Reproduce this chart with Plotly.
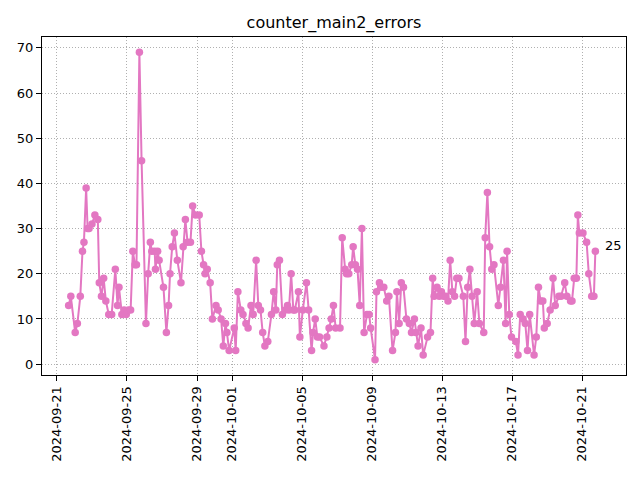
import pandas as pd
import plotly.graph_objects as go

# hours since 2024-09-21 00:00
hours = [16, 19, 25, 28, 32, 35, 37, 40, 42, 44, 48, 52, 56, 58, 61, 64, 67, 71, 75, 80,
         83, 85, 89, 92, 95, 98, 101, 104, 107, 109, 113, 116, 122, 125, 128, 130, 134, 135, 138, 140,
         146, 150, 153, 155, 158, 161, 165, 170, 173, 176, 179, 183, 186, 190, 195, 198, 201, 203, 206, 210,
         213, 218, 221, 225, 228, 231, 233, 236, 243, 245, 248, 252, 255, 259, 262, 266, 269, 273, 276, 279,
         282, 285, 289, 294, 297, 300, 302, 305, 309, 313, 316, 318, 321, 324, 326, 331, 333, 337, 342, 345,
         349, 351, 354, 357, 360, 366, 370, 373, 376, 379, 382, 388, 391, 395, 397, 400, 404, 406, 409, 412,
         415, 418, 421, 425, 428, 430, 436, 438, 442, 444, 448, 452, 455, 460, 464, 466, 469, 472, 475, 479,
         483, 486, 490, 492, 495, 499, 502, 508, 512, 515, 517, 521, 524, 527, 530, 533, 536, 539, 542, 545,
         548, 551, 557, 560, 563, 566, 569, 572, 576, 579, 585, 587, 590, 593, 596, 599, 605, 608, 612, 615,
         617, 620, 623, 629, 632, 635, 639, 642, 645, 648, 654, 657, 660, 663, 666, 668, 672, 676, 680, 683,
         688, 691, 696, 699, 704, 706, 709, 712, 714, 716, 721, 726, 729, 733, 736, 738]

values = [13, 15, 7, 9, 15, 25, 27, 39, 30, 30, 31, 33, 32, 18, 15, 19, 14, 11, 11, 21,
          13, 17, 11, 12, 11, 12, 12, 25, 22, 22, 69, 45, 9, 20, 27, 25, 25, 21, 25, 23,
          17, 7, 13, 20, 26, 29, 23, 18, 26, 32, 27, 27, 35, 33, 33, 25, 22, 20, 21, 18,
          10, 13, 12, 10, 4, 9, 7, 3, 8, 3, 16, 12, 11, 9, 8, 13, 11, 23, 13, 12,
          7, 4, 5, 11, 16, 12, 22, 23, 11, 12, 13, 12, 20, 12, 12, 16, 6, 12, 18, 12,
          3, 7, 10, 6, 6, 4, 6, 8, 10, 13, 8, 8, 28, 21, 20, 20, 22, 26, 22, 21,
          13, 30, 7, 11, 11, 8, 1, 16, 18, 17, 17, 14, 15, 3, 7, 16, 9, 18, 17, 10,
          9, 7, 10, 7, 4, 8, 2, 6, 7, 19, 15, 17, 15, 16, 15, 15, 14, 23, 16, 15,
          19, 19, 15, 5, 17, 21, 15, 9, 16, 9, 7, 28, 38, 26, 21, 22, 13, 17, 23, 9,
          25, 11, 6, 5, 2, 11, 10, 9, 3, 11, 2, 6, 17, 14, 14, 8, 9, 12, 19, 13,
          15, 15, 18, 15, 14, 14, 19, 19, 33, 29, 29, 27, 20, 15, 15, 25]

tick_dates = ["2024-09-21", "2024-09-25", "2024-09-29", "2024-10-01", "2024-10-05",
              "2024-10-09", "2024-10-13", "2024-10-17", "2024-10-21"]
y_ticks = [0, 10, 20, 30, 40, 50, 60, 70]
title = "counter_main2_errors"

start = pd.Timestamp("2024-09-21 00:00")
times = [start + pd.Timedelta(hours=h) for h in hours]

color = "#e377c2"
font = "DejaVu Sans"

fig = go.Figure()
fig.add_trace(go.Scatter(
    x=times, y=values, mode="lines+markers",
    line=dict(color=color, width=2),
    marker=dict(color=color, size=7.5),
    showlegend=False,
))

fig.add_annotation(
    x=times[-1], y=values[-1], text=str(values[-1]),
    showarrow=False, xanchor="left", yanchor="middle",
    xshift=8, yshift=6, font=dict(family=font, size=13, color="black"),
)

axis_common = dict(
    showline=True, linecolor="black", linewidth=1, mirror=True,
    ticks="outside", ticklen=5, tickwidth=1, tickcolor="black",
    showgrid=True, gridcolor="#b0b0b0", gridwidth=1, griddash="1px,2px",
    zeroline=False, tickfont=dict(family=font, size=13, color="black"),
)

fig.update_xaxes(
    range=["2024-09-20 03:30", "2024-10-23 12:00"],
    tickvals=[pd.Timestamp(d) for d in tick_dates], ticktext=tick_dates,
    tickangle=-90, **axis_common,
)
fig.update_yaxes(
    range=[-2.4, 72.4], tickvals=y_ticks, ticktext=[str(v) for v in y_ticks],
    **axis_common,
)

fig.update_layout(
    width=640, height=480,
    margin=dict(l=42, r=14, t=37, b=105),
    paper_bgcolor="white", plot_bgcolor="white",
    title=dict(text=title, x=(42 + 626) / 2 / 640, xanchor="center",
               y=1 - 22 / 480, yanchor="middle",
               font=dict(family=font, size=16, color="black")),
    font=dict(family=font),
)

fig.write_html("out.html")
